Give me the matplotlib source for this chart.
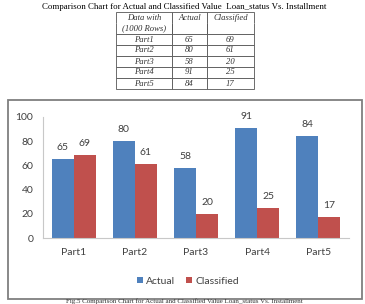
import matplotlib.pyplot as plt
from matplotlib.patches import Rectangle

parts = ['Part1', 'Part2', 'Part3', 'Part4', 'Part5']
actual = [65, 80, 58, 91, 84]
classified = [69, 61, 20, 25, 17]
table_header = [['Data with', 'Actual', 'Classified'], ['(1000 Rows)', '', '']]
table_parts = ['Part1', 'Part2', 'Part3', 'Part4', 'Part5']

W, H = 365, 304
fig = plt.figure(figsize=(W / 100, H / 100), dpi=100)

def fx(px):
    return px / W

def fy(py):
    return 1 - py / H

# title + table
fig.text(fx(184), fy(7), 'Comparison Chart for Actual and Classified Value  Loan_status Vs. Installment',
         ha='center', va='center', family='Liberation Serif', fontsize=6.4)

tax = fig.add_axes([fx(116), fy(89), fx(138), 77 / H])
tax.axis('off')
rows = [[p, str(a), str(c)] for p, a, c in zip(table_parts, actual, classified)]
tbl = tax.table(cellText=table_header + rows, colWidths=[56 / 138, 35 / 138, 47 / 138],
                cellLoc='center', bbox=[0, 0, 1, 1])
tbl.auto_set_font_size(False)
for (r, c), cell in tbl.get_celld().items():
    cell.set_edgecolor('#555555')
    cell.set_linewidth(0.6)
    if r == 0:
        cell.visible_edges = 'LRT'
    elif r == 1:
        cell.visible_edges = 'LRB'
    t = cell.get_text()
    t.set_fontsize(6.2)
    t.set_fontstyle('italic')
    t.set_family('Liberation Serif')
    t.set_color('#333333')

# chart frame
fig.patches.append(Rectangle((fx(8), fy(299)), fx(354), 199 / H, transform=fig.transFigure,
                             fill=False, edgecolor='#7f7f7f', linewidth=1.3))

ax = fig.add_axes([fx(43), fy(238), fx(306), 121 / H])
x = range(len(parts))
w = 0.36
b1 = ax.bar([i - w / 2 for i in x], actual, w, color='#4F81BD', label='Actual')
b2 = ax.bar([i + w / 2 for i in x], classified, w, color='#C0504D', label='Classified')
for bars in (b1, b2):
    ax.bar_label(bars, padding=5, fontsize=7.5, color='#404040', family='Lato')

ax.set_ylim(0, 100)
ax.set_xlim(-0.5, 4.5)
ax.set_yticks([0, 20, 40, 60, 80, 100])
ax.set_xticks(list(x))
ax.set_xticklabels(parts)
for lab in ax.get_xticklabels() + ax.get_yticklabels():
    lab.set_family('Lato')
    lab.set_fontsize(7.5)
    lab.set_color('#404040')
ax.tick_params(axis='x', length=0, pad=7)
ax.tick_params(axis='y', length=0, pad=7)
for s in ['top', 'right']:
    ax.spines[s].set_visible(False)
for s in ['left', 'bottom']:
    ax.spines[s].set_color('#c8c8c8')
    ax.spines[s].set_linewidth(0.8)

fig.legend(handles=[b1, b2], loc='center', bbox_to_anchor=(fx(188), fy(281)), ncol=2,
           frameon=False, prop={'family': 'Lato', 'size': 7.5}, handlelength=0.6,
           handleheight=0.6, handletextpad=0.3, columnspacing=1.0, labelcolor='#404040')

fig.text(fx(184), 0.001, 'Fig.5 Comparison Chart for Actual and Classified Value Loan_status Vs. Installment',
         ha='center', va='bottom', family='Liberation Serif', fontsize=5, color='#333333')

fig.savefig('out.png', dpi=100)
